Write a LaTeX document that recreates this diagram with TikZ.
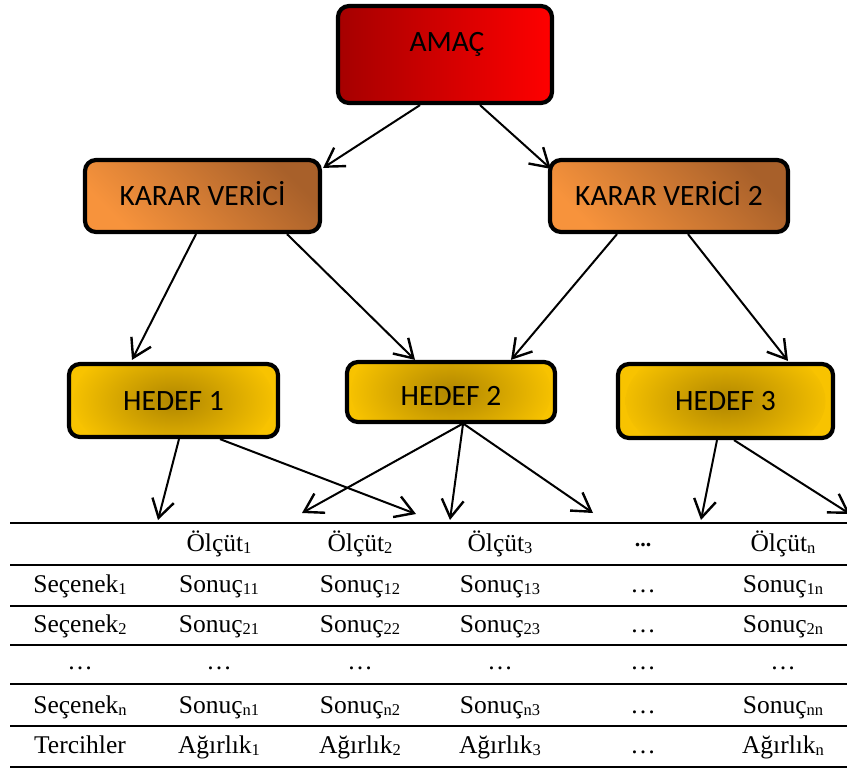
\documentclass[tikz,border=0pt]{standalone}
\usepackage{fontspec}
\setmainfont{Liberation Serif}
\newfontfamily\boxfont{Carlito}
\usetikzlibrary{arrows.meta}
\definecolor{rdark}{HTML}{A50000}
\definecolor{rbright}{HTML}{FF0000}
\definecolor{orlight}{HTML}{F7933C}
\definecolor{ordark}{HTML}{A8602A}
\definecolor{glight}{HTML}{F8C300}
\definecolor{gdark}{HTML}{B08600}
\newcommand\mysub[1]{\raisebox{-2pt}{\fontsize{16.5}{16.5}\selectfont #1}}
\begin{document}
\begin{tikzpicture}[x=1pt,y=-1pt,
  bfont/.style={font=\boxfont\fontsize{29.5}{30}\selectfont, text height=19pt, text depth=0pt},
  box/.style={draw=black, line width=4.2pt, rounded corners=11pt, inner sep=0pt, bfont},
  redbox/.style={box, left color=rdark, right color=rbright},
  orbox/.style={box, top color=ordark, bottom color=orlight, shading angle=-45},
  goldbox/.style={box, fill=glight, path picture={\shade[inner color=gdark, outer color=glight] (path picture bounding box.center) ellipse [x radius=100pt, y radius=60pt];}},
  conn/.style={line width=2pt, -{Straight Barb[length=18pt,width=22pt,line width=2.4pt]}},
  cell/.style={anchor=base, inner sep=0pt, font=\fontsize{25.5}{30}\selectfont},
  tabrule/.style={line width=2.6pt}
]
\useasboundingbox (0,0) rectangle (847,769);

% boxes
\node[redbox, minimum width=214pt, minimum height=97pt] (amac) at (445,54.5) {};
\node[bfont, inner sep=0pt] (amact) at (447,42) {AMAÇ};
\node[orbox, minimum width=235pt, minimum height=72pt] (kv1) at (202.5,196) {KARAR VERİCİ};
\node[orbox, minimum width=238pt, minimum height=72pt] (kv2) at (669,196) {KARAR VERİCİ 2};
\node[goldbox, minimum width=209pt, minimum height=73pt] (h1) at (173.5,400.5) {HEDEF 1};
\node[goldbox, minimum width=208pt, minimum height=60pt, text height=26pt] (h2) at (451,392) {HEDEF 2};
\node[goldbox, minimum width=215pt, minimum height=74pt] (h3) at (725.5,401) {HEDEF 3};

% arrow targets on the table
\coordinate (t1) at (158,520);
\coordinate (t2) at (416,514);
\coordinate (t3) at (302,513);
\coordinate (t4) at (450,520);
\coordinate (t5) at (593,513);
\coordinate (t6) at (701,520);
\coordinate (t7) at (850,514);

% connectors
\draw[conn] ([xshift=-25pt]amac.south) -- ([xshift=1pt,yshift=-10pt]kv1.north east);
\draw[conn] ([xshift=35pt]amac.south) -- ([xshift=3pt,yshift=-11pt]kv2.north west);
\draw[conn] ([xshift=-6.5pt]kv1.south) -- ([xshift=-41.5pt,yshift=2pt]h1.north);
\draw[conn] ([xshift=84.5pt]kv1.south) -- ([xshift=-36pt]h2.north);
\draw[conn] ([xshift=-52pt]kv2.south) -- ([xshift=60pt]h2.north);
\draw[conn] ([xshift=19pt]kv2.south) -- ([xshift=62.5pt,yshift=1pt]h3.north);
\draw[conn] ([xshift=5.5pt]h1.south) -- (t1);
\draw[conn] ([xshift=46.5pt]h1.south) -- (t2);
\draw[conn] ([xshift=11pt]h2.south) -- (t3);
\draw[conn] ([xshift=12pt]h2.south) -- (t4);
\draw[conn] ([xshift=13pt]h2.south) -- (t5);
\draw[conn] ([xshift=-8.5pt]h3.south) -- (t6);
\draw[conn] ([xshift=8.5pt]h3.south) -- (t7);

% table rules
\foreach \yy in {523,565,606,645,684,726,767}
  \draw[tabrule] (10,\yy) -- (847,\yy);

% header row
\node[cell] (o1) at (219,551) {Ölçüt\mysub{1}};
\node[cell] (o2) at (360,551) {Ölçüt\mysub{2}};
\node[cell] (o3) at (500,551) {Ölçüt\mysub{3}};
\node[cell, font=\fontsize{22}{26}\selectfont\bfseries] (o4) at (643,546) {...};
\node[cell] (o5) at (783,551) {Ölçüt\mysub{n}};
% row 1
\node[cell] (r1c0) at (80,592) {Seçenek\mysub{1}};
\node[cell] (r1c1) at (219,592) {Sonuç\mysub{11}};
\node[cell] (r1c2) at (360,592) {Sonuç\mysub{12}};
\node[cell] (r1c3) at (500,592) {Sonuç\mysub{13}};
\node[cell] (r1c4) at (643,592) {…};
\node[cell] (r1c5) at (783,592) {Sonuç\mysub{1n}};
% row 2
\node[cell] (r2c0) at (80,632) {Seçenek\mysub{2}};
\node[cell] (r2c1) at (219,632) {Sonuç\mysub{21}};
\node[cell] (r2c2) at (360,632) {Sonuç\mysub{22}};
\node[cell] (r2c3) at (500,632) {Sonuç\mysub{23}};
\node[cell] (r2c4) at (643,632) {…};
\node[cell] (r2c5) at (783,632) {Sonuç\mysub{2n}};
% row 3
\node[cell] (r3c0) at (80,669) {…};
\node[cell] (r3c1) at (219,669) {…};
\node[cell] (r3c2) at (360,669) {…};
\node[cell] (r3c3) at (500,669) {…};
\node[cell] (r3c4) at (643,669) {…};
\node[cell] (r3c5) at (783,669) {…};
% row 4
\node[cell] (r4c0) at (80,713) {Seçenek\mysub{n}};
\node[cell] (r4c1) at (219,713) {Sonuç\mysub{n1}};
\node[cell] (r4c2) at (360,713) {Sonuç\mysub{n2}};
\node[cell] (r4c3) at (500,713) {Sonuç\mysub{n3}};
\node[cell] (r4c4) at (643,713) {…};
\node[cell] (r4c5) at (783,713) {Sonuç\mysub{nn}};
% row 5
\node[cell] (r5c0) at (80,753) {Tercihler};
\node[cell] (r5c1) at (219,753) {Ağırlık\mysub{1}};
\node[cell] (r5c2) at (360,753) {Ağırlık\mysub{2}};
\node[cell] (r5c3) at (500,753) {Ağırlık\mysub{3}};
\node[cell] (r5c4) at (643,753) {…};
\node[cell] (r5c5) at (783,753) {Ağırlık\mysub{n}};
\end{tikzpicture}
\end{document}
